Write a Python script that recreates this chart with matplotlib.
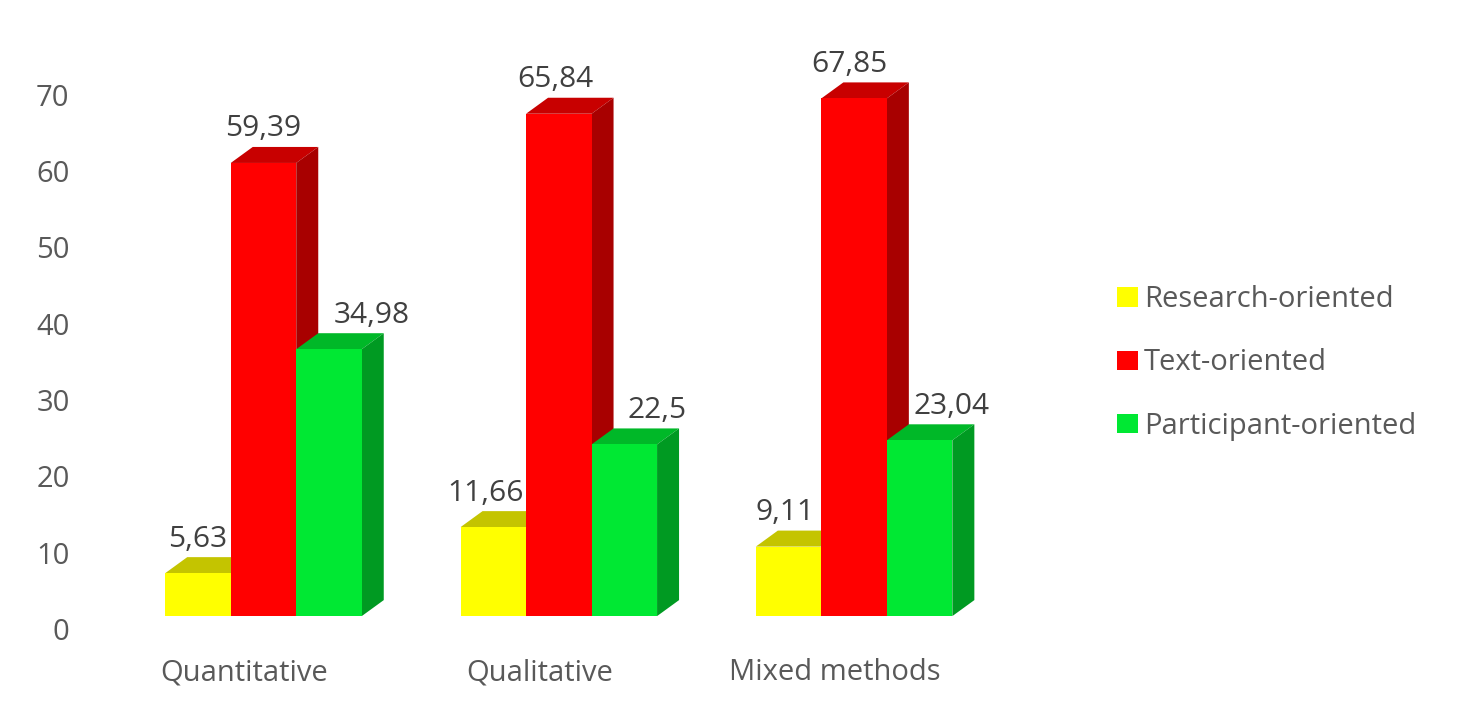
import matplotlib
matplotlib.use('Agg')
import matplotlib.pyplot as plt
from matplotlib.patches import Patch, Polygon
import numpy as np

plt.rcParams['font.family'] = ['Open Sans', 'DejaVu Sans']

categories = ['Quantitative', 'Qualitative', 'Mixed methods']
series_names = ['Research-oriented', 'Text-oriented', 'Participant-oriented']
research = [5.63, 11.66, 9.11]
text_oriented = [59.39, 65.84, 67.85]
participant = [34.98, 22.5, 23.04]
y_ticks = [0, 10, 20, 30, 40, 50, 60, 70]

# front, top and side colours of each series
front = ['#FFFF00', '#FF0000', '#00E833']
top = ['#C4C400', '#C80000', '#00B828']
side = ['#A8A800', '#A80000', '#009A22']

# label shift in pixels from the middle of the bar: yellow, red, green
label_dx = [[0, 0, 43], [-8, -3, 33], [-4, -5, 32]]

W, H = 1463, 706
GROUP_PX = 295.3
UNIT_PX = 7.63
fig = plt.figure(figsize=(W / 100, H / 100), dpi=100)

# axes box in pixels, limits worked out so that 0 sits at y=629 and group 0 at x=263.5
left, right, upper, lower = 130, 1010, 30, 640
ax = fig.add_axes([left / W, 1 - lower / H, (right - left) / W, (lower - upper) / H])
ax.set_xlim((left - 263.5) / GROUP_PX, (right - 263.5) / GROUP_PX)
ax.set_ylim((629 - lower) / UNIT_PX, (629 - upper) / UNIT_PX)

bar_w = 65.5 / GROUP_PX
depth_x = 22 / GROUP_PX
depth_y = 16 / UNIT_PX
floor = 12.9 / UNIT_PX  # front edge of the floor sits below the back wall

x = np.arange(len(categories))
all_values = [research, text_oriented, participant]
for s, values in enumerate(all_values):
    xs = x + (s - 1) * bar_w
    ax.bar(xs, values, bar_w, bottom=floor, color=front[s], linewidth=0, zorder=3 + s * 2)
    for i, v in enumerate(values):
        x0 = xs[i] - bar_w / 2
        x1 = xs[i] + bar_w / 2
        t = floor + v
        ax.add_patch(Polygon([(x0, t), (x1, t), (x1 + depth_x, t + depth_y), (x0 + depth_x, t + depth_y)],
                             facecolor=top[s], linewidth=0, zorder=2 + s * 2))
        ax.add_patch(Polygon([(x1, floor), (x1 + depth_x, floor + depth_y), (x1 + depth_x, t + depth_y), (x1, t)],
                             facecolor=side[s], linewidth=0, zorder=2 + s * 2))
        ax.annotate(str(v).replace('.', ','), (xs[i], t), xytext=(label_dx[i][s] * 0.72, 24.5),
                    textcoords='offset points', ha='center', va='center',
                    fontsize=21.5, color='#404040', zorder=20)

for spine in ax.spines.values():
    spine.set_visible(False)
ax.patch.set_visible(False)

ax.set_yticks(y_ticks)
ax.set_yticklabels([str(v) for v in y_ticks], fontsize=21, color='#595959')
ax.tick_params(axis='y', length=0, pad=43.5)
ax.set_xticks(x - 19 / GROUP_PX)
ax.set_xticklabels(categories, fontsize=21, color='#595959')
ax.tick_params(axis='x', length=0, pad=13)

handles = [Patch(facecolor=c, linewidth=0) for c in front]
fig.legend(handles, series_names, loc='center left', bbox_to_anchor=(1113 / W, 1 - 363 / H),
           frameon=False, fontsize=21, labelcolor='#595959', handlelength=0.72,
           handleheight=0.65, handletextpad=0.2, labelspacing=1.18, borderaxespad=0, borderpad=0.14)

fig.savefig('out.png', dpi=100)
